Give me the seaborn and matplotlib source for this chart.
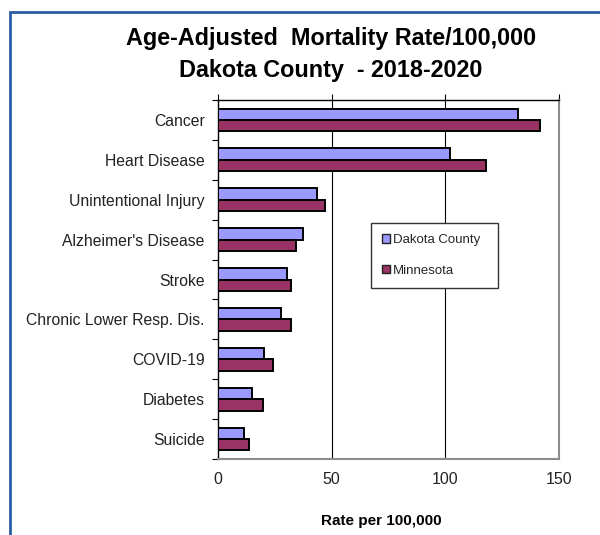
import matplotlib
matplotlib.use("Agg")
import matplotlib.pyplot as plt
import matplotlib.patches as mpatches
from matplotlib.ticker import FixedLocator
import seaborn as sns
import pandas as pd

# ---- data ----
causes = ["Cancer", "Heart Disease", "Unintentional Injury", "Alzheimer's Disease",
          "Stroke", "Chronic Lower Resp. Dis.", "COVID-19", "Diabetes", "Suicide"]
dakota = [131.9, 102.2, 43.5, 37.2, 30.5, 27.6, 20.1, 15.0, 11.6]
minnesota = [141.5, 118.0, 47.2, 34.3, 32.1, 32.1, 24.4, 19.7, 13.5]
series = ["Dakota County", "Minnesota"]
colors = ["#9999FF", "#993366"]
xticks = [0, 50, 100, 150]

df = pd.DataFrame({
    "cause": causes * 2,
    "rate": dakota + minnesota,
    "area": [series[0]] * len(causes) + [series[1]] * len(causes),
})

sns.set_theme(style="white")
plt.rcParams["font.family"] = ["Liberation Sans", "DejaVu Sans"]

W, H = 600, 535
fig = plt.figure(figsize=(W / 100, H / 100), dpi=100)
fig.patch.set_facecolor("white")

L, R, T, B = 218, 559, 100, 459
ax = fig.add_axes([L / W, 1 - B / H, (R - L) / W, (B - T) / H])

sns.barplot(data=df, x="rate", y="cause", hue="area", order=causes,
            hue_order=series, palette=colors, orient="h", width=0.57,
            saturation=1, edgecolor="black", linewidth=1.4, ax=ax,
            legend=False, zorder=3)

ax.set_xlim(0, 150)
ax.set_ylim(len(causes) - 0.5, -0.5)
ax.set_xticks(xticks)
ax.set_xticklabels([str(v) for v in xticks])
for v in xticks[1:-1]:
    ax.axvline(v, color="black", lw=0.8, zorder=1)

# spines
ax.spines["top"].set_color("black")
ax.spines["top"].set_linewidth(1.0)
ax.spines["left"].set_color("black")
ax.spines["left"].set_linewidth(1.0)
ax.spines["right"].set_color("#8c8c8c")
ax.spines["right"].set_linewidth(1.5)
ax.spines["bottom"].set_color("#8c8c8c")
ax.spines["bottom"].set_linewidth(1.5)

# ticks
ax.tick_params(axis="x", bottom=False, top=True, labelbottom=True, labeltop=False,
               direction="out", length=4, width=0.8, color="black",
               labelsize=11.5, labelcolor="#222222", pad=5)
ax.tick_params(axis="y", which="major", left=False, labelsize=11.3,
               labelcolor="#222222", pad=3.5)
ax.yaxis.set_minor_locator(FixedLocator([i - 0.5 for i in range(len(causes) + 1)]))
ax.tick_params(axis="y", which="minor", left=True, direction="out", length=4,
               width=0.8, color="black")
ax.set_ylabel("")
ax.set_xlabel("Rate per 100,000", fontsize=11, fontweight="bold", color="black")
ax.xaxis.set_label_coords((381 - L) / (R - L), (B - 514) / (B - T))

# legend
handles = [mpatches.Patch(facecolor=c, edgecolor="#222222", linewidth=1.0) for c in colors]
lx0 = (371 - L) / (R - L)
lw = (498 - 371) / (R - L)
ly0 = (B - 283) / (B - T)
lh = (283 - 223) / (B - T)
leg = ax.legend(handles, series, loc="upper left",
                bbox_to_anchor=(lx0, ly0, lw, lh), mode="expand",
                borderaxespad=0, frameon=True, fancybox=False, shadow=False,
                fontsize=9.5, handlelength=0.6, handleheight=0.6, handletextpad=0.2,
                labelspacing=1.4, borderpad=0.85)
leg.get_frame().set_edgecolor("#333333")
leg.get_frame().set_linewidth(1.0)
leg.get_frame().set_alpha(1)
leg.set_zorder(5)

# title
fig.text(331 / W, 1 - 38 / H, "Age-Adjusted  Mortality Rate/100,000", ha="center",
         va="center", fontsize=16.8, fontweight="bold", color="black")
fig.text(331 / W, 1 - 70 / H, "Dakota County  - 2018-2020", ha="center",
         va="center", fontsize=16.8, fontweight="bold", color="black")

# blue frame
frame = mpatches.Rectangle((10 / W, -0.2), 1.2, (1 - 12 / H) + 0.2,
                           transform=fig.transFigure, fill=False,
                           edgecolor="#2b5ca6", linewidth=2.0, clip_on=False)
fig.patches.append(frame)

fig.savefig("out.png", dpi=100, facecolor="white")
